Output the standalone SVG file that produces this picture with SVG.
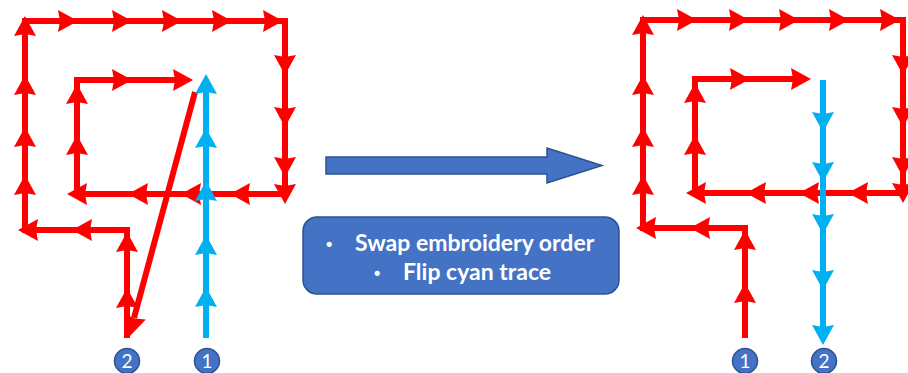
<svg xmlns="http://www.w3.org/2000/svg" width="908" height="373" viewBox="0 0 908 373">
<style>
.red{fill:none;stroke:#FF0000;stroke-width:6;stroke-linejoin:miter}
.cyan{fill:none;stroke:#00B0F0;stroke-width:6}
.rh{fill:#FF0000}
.ch{fill:#00B0F0}
.blue{fill:#4472C4;stroke:#2F528F;stroke-width:1.5}
.num{fill:#fff;font-family:Lato,"Liberation Sans",sans-serif;font-size:19px;text-anchor:middle}
.lbl{fill:#fff;font-family:Lato,"Open Sans",sans-serif;font-size:23px;font-weight:bold}
.bul{fill:#fff;font-family:"Liberation Sans",sans-serif;font-size:18px;font-weight:bold}
</style>
<defs>
<path id="ah" d="M0,0 L11,20 L0,18 L-11,20 Z"/>
</defs>
<rect width="908" height="373" fill="#fff"/>

<g id="left-diagram">
  <g id="left-red-trace">
    <path class="red" d="M127,338 V230 H25 V21 H285 V194 H77 V80 H184"/>
    <line class="red" x1="195" y1="92" x2="134" y2="318"/>
    <g class="rh">
      <use href="#ah" transform="translate(127,288)"/>
      <use href="#ah" transform="translate(127,232)"/>
      <use href="#ah" transform="translate(72,230) rotate(-90)"/>
      <use href="#ah" transform="translate(18,230) rotate(-90)"/>
      <use href="#ah" transform="translate(25,175)"/>
      <use href="#ah" transform="translate(25,127)"/>
      <use href="#ah" transform="translate(25,75)"/>
      <use href="#ah" transform="translate(25,16)"/>
      <use href="#ah" transform="translate(78,21) rotate(90)"/>
      <use href="#ah" transform="translate(132,21) rotate(90)"/>
      <use href="#ah" transform="translate(182,21) rotate(90)"/>
      <use href="#ah" transform="translate(232,21) rotate(90)"/>
      <use href="#ah" transform="translate(283,21) rotate(90)"/>
      <use href="#ah" transform="translate(285,75) rotate(180)"/>
      <use href="#ah" transform="translate(285,127) rotate(180)"/>
      <use href="#ah" transform="translate(285,177) rotate(180)"/>
      <use href="#ah" transform="translate(285,204) rotate(180)"/>
      <use href="#ah" transform="translate(230,194) rotate(-90)"/>
      <use href="#ah" transform="translate(181,194) rotate(-90)"/>
      <use href="#ah" transform="translate(128,194) rotate(-90)"/>
      <use href="#ah" transform="translate(67,194) rotate(-90)"/>
      <use href="#ah" transform="translate(77,135)"/>
      <use href="#ah" transform="translate(77,84)"/>
      <use href="#ah" transform="translate(132,80) rotate(90)"/>
      <use href="#ah" transform="translate(193,80) rotate(90)"/>
      <use href="#ah" transform="translate(130,336) rotate(195)"/>
    </g>
  </g>
  <g id="left-cyan-trace">
    <line class="cyan" x1="206" y1="338" x2="206" y2="85"/>
    <g class="ch">
      <use href="#ah" transform="translate(206,287)"/>
      <use href="#ah" transform="translate(206,235)"/>
      <use href="#ah" transform="translate(206,181)"/>
      <use href="#ah" transform="translate(206,128)"/>
      <use href="#ah" transform="translate(206,74)"/>
    </g>
  </g>
  <g id="left-badge-2">
    <circle class="blue" cx="127" cy="361" r="12.5"/>
    <text class="num" x="127" y="368">2</text>
  </g>
  <g id="left-badge-1">
    <circle class="blue" cx="207" cy="361" r="12.5"/>
    <text class="num" x="207" y="368">1</text>
  </g>
</g>

<g id="transform-arrow">
  <polygon class="blue" points="326,157 547,157 547,148 602,165.5 547,183 547,174 326,174"/>
</g>

<g id="note-box">
  <rect class="blue" x="303" y="217" width="316" height="77" rx="14"/>
  <text class="bul" x="326" y="250">•</text>
  <text class="lbl" x="355" y="251">Swap embroidery order</text>
  <text class="bul" x="374" y="279">•</text>
  <text class="lbl" x="403" y="280">Flip cyan trace</text>
</g>

<g id="right-diagram">
  <g id="right-red-trace">
    <path class="red" d="M745,338 V228 H643 V20 H903 V193 H695 V79 H801"/>
    <g class="rh">
      <use href="#ah" transform="translate(745,283)"/>
      <use href="#ah" transform="translate(745,230)"/>
      <use href="#ah" transform="translate(690,228) rotate(-90)"/>
      <use href="#ah" transform="translate(636,228) rotate(-90)"/>
      <use href="#ah" transform="translate(643,175)"/>
      <use href="#ah" transform="translate(643,127)"/>
      <use href="#ah" transform="translate(643,75)"/>
      <use href="#ah" transform="translate(643,15)"/>
      <use href="#ah" transform="translate(697,20) rotate(90)"/>
      <use href="#ah" transform="translate(749,20) rotate(90)"/>
      <use href="#ah" transform="translate(799,20) rotate(90)"/>
      <use href="#ah" transform="translate(849,20) rotate(90)"/>
      <use href="#ah" transform="translate(900,20) rotate(90)"/>
      <use href="#ah" transform="translate(903,75) rotate(180)"/>
      <use href="#ah" transform="translate(903,127) rotate(180)"/>
      <use href="#ah" transform="translate(903,177) rotate(180)"/>
      <use href="#ah" transform="translate(903,203) rotate(180)"/>
      <use href="#ah" transform="translate(848,193) rotate(-90)"/>
      <use href="#ah" transform="translate(799,193) rotate(-90)"/>
      <use href="#ah" transform="translate(746,193) rotate(-90)"/>
      <use href="#ah" transform="translate(686,193) rotate(-90)"/>
      <use href="#ah" transform="translate(695,135)"/>
      <use href="#ah" transform="translate(695,83)"/>
      <use href="#ah" transform="translate(750,79) rotate(90)"/>
      <use href="#ah" transform="translate(811,79) rotate(90)"/>
    </g>
  </g>
  <g id="right-cyan-trace">
    <line class="cyan" x1="823" y1="80" x2="823" y2="331"/>
    <g class="ch">
      <use href="#ah" transform="translate(823,132) rotate(180)"/>
      <use href="#ah" transform="translate(823,182) rotate(180)"/>
      <use href="#ah" transform="translate(823,234) rotate(180)"/>
      <use href="#ah" transform="translate(823,290) rotate(180)"/>
      <use href="#ah" transform="translate(823,345) rotate(180)"/>
    </g>
  </g>
  <g id="right-badge-1">
    <circle class="blue" cx="745" cy="361" r="12.5"/>
    <text class="num" x="745" y="368">1</text>
  </g>
  <g id="right-badge-2">
    <circle class="blue" cx="824" cy="361" r="12.5"/>
    <text class="num" x="824" y="368">2</text>
  </g>
</g>
</svg>
